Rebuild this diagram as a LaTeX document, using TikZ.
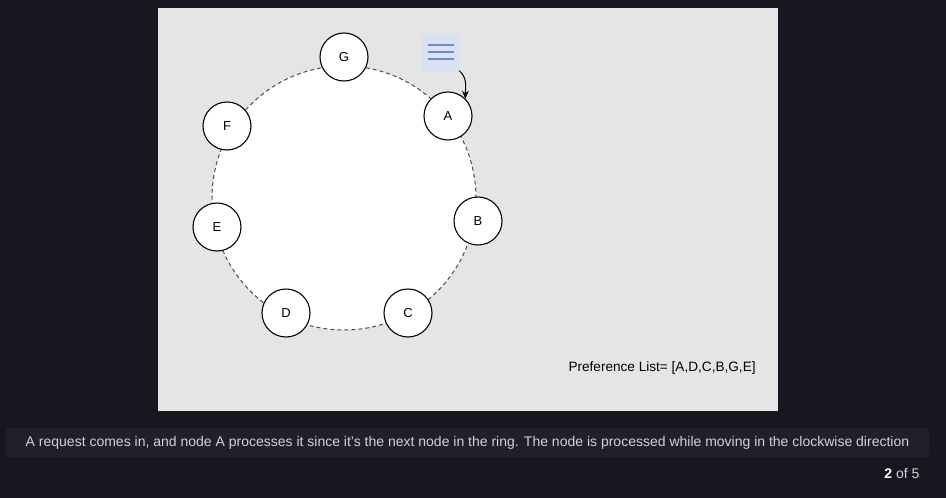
\documentclass[tikz,border=0pt]{standalone}
\usepackage{fontspec}
\setmainfont{Liberation Sans}
\usetikzlibrary{arrows.meta}

\definecolor{pagebg}{HTML}{16171F}
\definecolor{panelbg}{HTML}{E5E5E5}
\definecolor{capbg}{HTML}{1F2029}
\definecolor{captext}{HTML}{D2D3D8}
\definecolor{iconbg}{HTML}{DAE1F3}
\definecolor{iconline}{HTML}{6C8EBF}

\tikzset{
  ringnode/.style={circle,draw=black,fill=white,line width=1.1pt,
    minimum size=48pt,inner sep=0pt,font=\fontsize{13}{15}\selectfont},
  ringline/.style={draw=black!70,dashed,dash pattern=on 4pt off 3pt,line width=1pt,fill=white}
}

\begin{document}
\begin{tikzpicture}[x=1pt,y=-1pt]
% page and panel
\fill [pagebg] (0,0) rectangle (946,498);
\useasboundingbox (0,0) rectangle (946,498);
\fill [panelbg] (158,8) rectangle (778,411);
% ring
\draw [ringline] (344,198) circle (132);
% nodes on the ring
\node [ringnode] (G) at (344,57) {G};
\node [ringnode] (A) at (448,116) {A};
\node [ringnode] (B) at (478,221) {B};
\node [ringnode] (C) at (408,313) {C};
\node [ringnode] (D) at (286,313) {D};
\node [ringnode] (E) at (217,227) {E};
\node [ringnode] (F) at (227,126) {F};
% request icon
\node [fill=iconbg,minimum size=37pt,inner sep=0pt] (req) at (440.5,52) {};
\foreach \yy in {-7,0,7}
  \draw [iconline,line width=1.3pt] ([xshift=-13pt,yshift=\yy pt]req.center) -- ([xshift=13pt,yshift=\yy pt]req.center);
\draw [-{Stealth[length=8pt,width=7pt]},line width=1pt] (req.south east) to[out=-40,in=90] (A.45);
% preference list
\node [font=\fontsize{13.6}{16}\selectfont,anchor=west] (pref) at (565,368) {Preference List= [A,D,C,B,G,E]};
% caption
\node [fill=capbg,rounded corners=3pt,minimum width=923pt,minimum height=29pt,inner sep=0pt] (capbox) at (467.5,442.5) {};
\node [text=captext,font=\fontsize{14}{16}\selectfont] (cap) at (capbox.center)
  {A request comes in, and node A processes it since it’s the next node in the ring. The node is processed while moving in the clockwise direction};
\node [text=captext,font=\fontsize{14}{16}\selectfont,anchor=east] (page) at (923,473) {{\color{white}\bfseries 2} of 5};
\end{tikzpicture}
\end{document}
